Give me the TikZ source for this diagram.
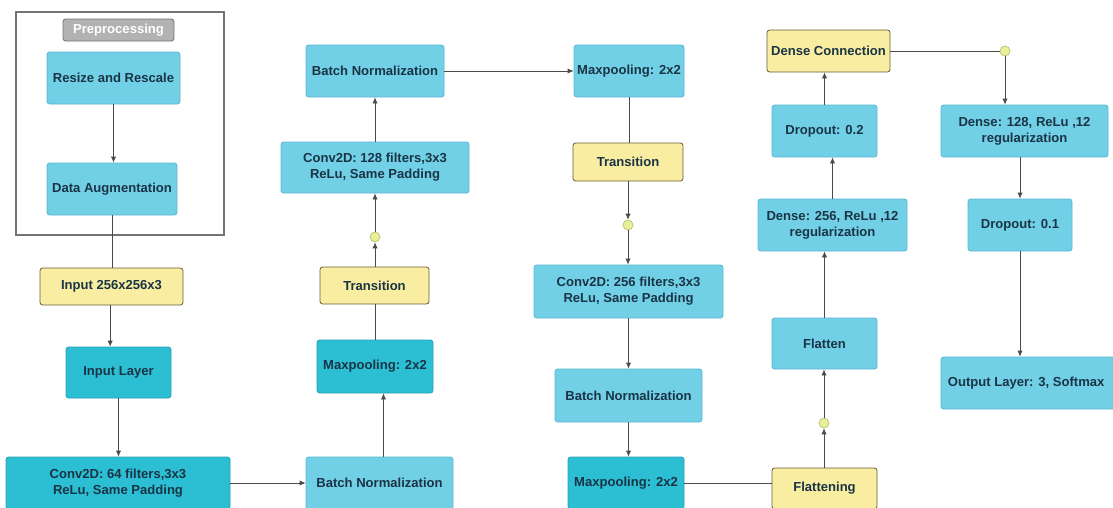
\documentclass[tikz,border=0pt]{standalone}
\usepackage{fontspec}
\setmainfont{Liberation Sans}
\usetikzlibrary{arrows.meta}
\definecolor{cyanlight}{HTML}{72D0E6}
\definecolor{cyandark}{HTML}{2CBFD4}
\definecolor{cyanedge}{HTML}{5DB6D2}
\definecolor{yellowfill}{HTML}{F8EDA0}
\definecolor{yellowedge}{HTML}{6A5E38}
\definecolor{dotfill}{HTML}{E8EE9A}
\definecolor{dotedge}{HTML}{B5BF6A}
\definecolor{inktext}{HTML}{1A3446}
\definecolor{wire}{HTML}{4A4A4A}
\tikzset{
  base/.style={rounded corners=2pt, inner sep=0pt, font=\bfseries\fontsize{9.8}{12}\selectfont,
    text=inktext, align=center, line width=0.6pt},
  lightbox/.style={base, fill=cyanlight, draw=cyanedge},
  darkbox/.style={base, fill=cyandark, draw=cyandark!85!black},
  yellowbox/.style={base, fill=yellowfill, draw=yellowedge},
  titlebox/.style={base, fill=black!30, draw=black!55, text=white},
  framebox/.style={draw=black!55, line width=0.8pt, inner sep=0pt},
  dot/.style={circle, minimum size=7.5pt, inner sep=0pt, fill=dotfill, draw=dotedge, line width=0.5pt},
  wireline/.style={draw=wire, line width=0.6pt},
  arrowline/.style={wireline, -{Latex[length=4.5pt,width=4pt]}},
}
% \blk{style}{name}{x1}{y1}{x2}{y2}{text}: a box spanning the given corners
\newcommand\blk[7]{%
  \pgfmathsetmacro\bw{(#5)-(#3)}%
  \pgfmathsetmacro\bh{(#6)-(#4)}%
  \pgfmathsetmacro\bx{((#3)+(#5))/2}%
  \pgfmathsetmacro\by{((#4)+(#6))/2}%
  \node[#1, minimum width=\bw*0.75pt, minimum height=\bh*0.75pt] (#2) at (\bx,\by) {#7};%
}
\begin{document}
\begin{tikzpicture}[x=0.75pt,y=-0.75pt]
\useasboundingbox (0,0) rectangle (1113,507);
\fill[white] (0,0) rectangle (1113,507);

% preprocessing frame
\blk{framebox}{pre}{16}{12}{224}{235}{}
\blk{titlebox}{pretitle}{63}{19}{174}{41}{Preprocessing}

% first column
\blk{lightbox}{resize}{47}{52}{180}{104}{Resize and Rescale}
\blk{lightbox}{aug}{47}{163}{177}{215}{Data Augmentation}
\blk{yellowbox}{input}{40}{268}{183}{305}{Input 256x256x3}
\blk{darkbox}{inlayer}{66}{347}{171}{398}{Input Layer}
\blk{darkbox}{conv64}{6}{457}{230}{509}{Conv2D: 64 filters,3x3\\ReLu, Same Padding}

% second column
\blk{lightbox}{bn1}{306}{457}{453}{509}{Batch Normalization}
\blk{darkbox}{mp1}{317}{340}{433}{393}{Maxpooling: 2x2}
\blk{yellowbox}{tr1}{320}{267}{429}{304}{Transition}
\node[dot] (d1) at (375,237) {};
\blk{lightbox}{conv128}{281}{142}{469}{193}{Conv2D: 128 filters,3x3\\ReLu, Same Padding}
\blk{lightbox}{bn2}{306}{45}{444}{97}{Batch Normalization}

% third column
\blk{lightbox}{mp2}{574}{45}{684}{97}{Maxpooling: 2x2}
\blk{yellowbox}{tr2}{573}{143}{683}{181}{Transition}
\node[dot] (d2) at (628,225) {};
\blk{lightbox}{conv256}{534}{265}{723}{318}{Conv2D: 256 filters,3x3\\ReLu, Same Padding}
\blk{lightbox}{bn3}{555}{369}{702}{422}{Batch Normalization}
\blk{darkbox}{mp3}{568}{457}{684}{509}{Maxpooling: 2x2}

% fourth column
\blk{yellowbox}{flatting}{772}{468}{877}{509}{Flattening}
\node[dot] (d3) at (824,423) {};
\blk{lightbox}{flat}{772}{318}{877}{369}{Flatten}
\blk{lightbox}{dense256}{758}{199}{907}{251}{Dense: 256, ReLu ,12\\regularization}
\blk{lightbox}{drop2}{772}{105}{877}{157}{Dropout: 0.2}
\blk{yellowbox}{dconn}{767}{30}{890}{72}{Dense Connection}

% fifth column
\node[dot] (d4) at (1005,51) {};
\blk{lightbox}{dense128}{941}{105}{1108}{157}{Dense: 128, ReLu ,12\\regularization}
\blk{lightbox}{drop1}{968}{199}{1072}{251}{Dropout: 0.1}
\blk{lightbox}{out}{941}{357}{1118}{409}{\hspace*{-5pt}Output Layer: 3, Softmax}

% connectors
\draw[arrowline] (resize.south) -- (resize.south |- aug.north);
\draw[wireline] (aug.south) -- (aug.south |- input.north);
\draw[arrowline] ([xshift=-1pt]input.south) -- ([xshift=-1pt]input.south |- inlayer.north);
\draw[arrowline] (inlayer.south) -- (inlayer.south |- conv64.north);
\draw[arrowline] (conv64.east) -- (bn1.west);
\draw[arrowline] ([xshift=3pt]bn1.north) -- ([xshift=3pt]bn1.north |- mp1.south);
\draw[wireline] (mp1.north) -- (mp1.north |- tr1.south);
\draw[arrowline] (tr1.north -| d1) -- (d1.south);
\draw[arrowline] (d1.north) -- (d1.north |- conv128.south);
\draw[arrowline] (conv128.north) -- (conv128.north |- bn2.south);
\draw[arrowline] (bn2.east) -- (bn2.east -| mp2.west);
\draw[wireline] (mp2.south) -- (mp2.south |- tr2.north);
\draw[arrowline] (tr2.south -| d2) -- (d2.north);
\draw[arrowline] (d2.south) -- (d2.south |- conv256.north);
\draw[arrowline] (conv256.south -| bn3.north) -- (bn3.north);
\draw[arrowline] (bn3.south) -- (bn3.south |- mp3.north);
\draw[wireline] (mp3.east) -- (mp3.east -| flatting.west);
\draw[arrowline] (flatting.north -| d3) -- (d3.south);
\draw[arrowline] (d3.north) -- (d3.north |- flat.south);
\draw[arrowline] (flat.north) -- (flat.north |- dense256.south);
\draw[arrowline] ([xshift=6pt]dense256.north -| drop2.south) -- ([xshift=6pt]drop2.south);
\draw[arrowline] (drop2.north) -- (drop2.north |- dconn.south);
\draw[wireline] (dconn.east) -- (dconn.east -| d4.west);
\draw[arrowline] (d4.south) -- (d4.south |- dense128.north);
\draw[arrowline] (dense128.south -| drop1.north) -- (drop1.north);
\draw[arrowline] (drop1.south) -- (drop1.south |- out.north);
\end{tikzpicture}
\end{document}
